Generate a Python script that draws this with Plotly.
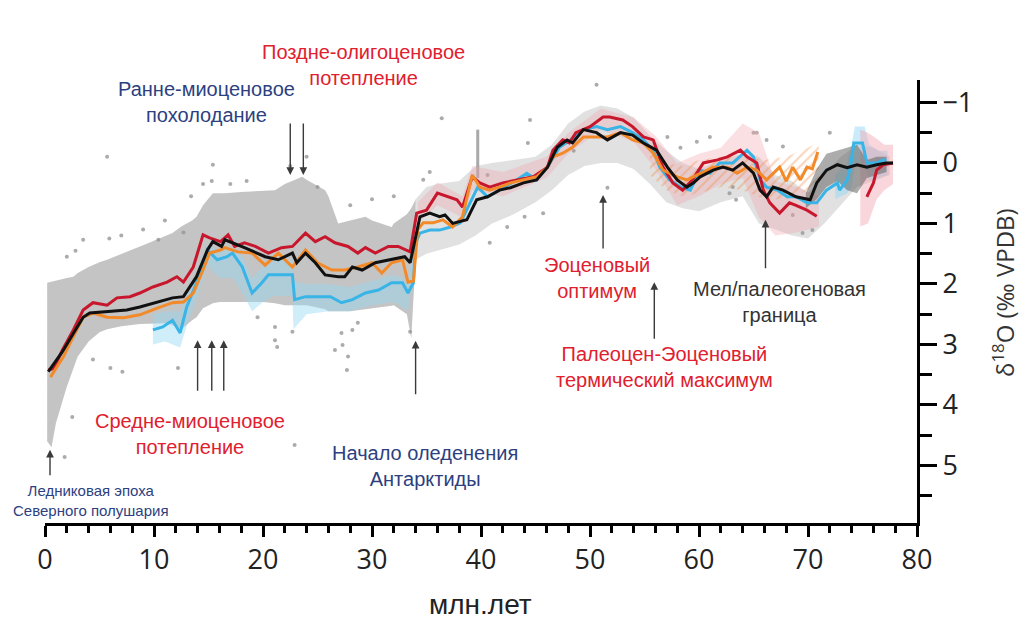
import plotly.graph_objects as go

# ---------------- data (age in Myr, d18O in permil) ----------------
black_age = [0.3, 1.6, 2.6, 3.5, 4.1, 5.7, 7.5, 8.7, 10.3, 11.7, 12.7, 13.9, 14.9, 15.4, 16.2, 16.5, 18.3, 20.2, 21.4, 22.7,
             23.1, 23.9, 24.8, 25.7, 26.9, 27.5, 28.2, 29.1, 30.3, 31.8, 33.0, 33.5, 34.4, 35.3, 36.2, 36.7, 37.4, 38.7, 39.6, 40.6,
             41.7, 42.7, 43.9, 45.1, 46.1, 47.0, 47.9, 48.4, 49.4, 50.6, 51.6, 52.8, 53.9, 54.9, 56.1, 57.1, 58.0, 58.9, 59.5, 60.1,
             61.3, 62.2, 63.1, 64.0, 65.0, 65.6, 66.2, 66.8, 67.7, 68.9, 70.2, 70.8, 71.7, 72.7, 73.6, 74.5, 75.4, 76.3, 77.2, 77.8]
black_d18o = [3.45, 3.12, 2.82, 2.55, 2.48, 2.46, 2.43, 2.38, 2.30, 2.23, 2.21, 1.88, 1.44, 1.30, 1.38, 1.27, 1.40, 1.55, 1.60, 1.49,
              1.65, 1.49, 1.65, 1.85, 1.88, 1.88, 1.72, 1.77, 1.65, 1.60, 1.55, 1.65, 0.89, 0.83, 0.89, 0.86, 1.00, 0.94, 0.61, 0.56,
              0.45, 0.41, 0.33, 0.28, 0.07, -0.26, -0.38, -0.33, -0.55, -0.50, -0.38, -0.50, -0.46, -0.33, -0.21, 0.07, 0.28, 0.40, 0.33, 0.23,
              0.12, 0.07, 0.12, 0.00, 0.17, 0.45, 0.56, 0.40, 0.45, 0.56, 0.61, 0.33, 0.12, 0.03, 0.08, 0.03, 0.07, 0.03, 0.00, 0.00]

red_age = [0.3, 0.8, 1.6, 2.6, 3.5, 4.4, 5.7, 6.6, 7.8, 8.7, 9.9, 11.2, 12.1, 12.7, 13.6, 14.5, 15.1, 16.1, 16.8, 17.4,
           18.3, 19.3, 20.5, 21.7, 22.7, 23.9, 24.8, 25.7, 26.6, 27.8, 28.7, 29.4, 30.3, 31.5, 32.4, 33.5, 34.1, 35.0, 36.0, 36.9,
           37.8, 38.3, 39.2, 39.9, 40.8, 42.0, 43.3, 44.8, 46.1, 46.6, 47.5, 48.1, 48.7, 50.0, 51.2, 51.8, 53.0, 53.9, 54.9, 55.8,
           56.7, 57.6, 58.5, 59.4, 60.4, 61.7, 62.6, 63.8, 64.4, 65.3, 65.9, 66.5, 67.4, 68.3, 68.9, 69.9, 70.8, None,
           75.4, 76.0, 76.3, 76.9, 77.8]
red_d18o = [3.42, 3.40, 3.09, 2.76, 2.43, 2.31, 2.35, 2.23, 2.21, 2.15, 2.05, 1.97, 1.88, 1.97, 1.72, 1.19, 1.24, 1.30, 1.19, 1.38,
            1.32, 1.38, 1.49, 1.40, 1.38, 1.16, 1.30, 1.22, 1.32, 1.38, 1.49, 1.40, 1.49, 1.38, 1.38, 1.47, 0.83, 0.78, 0.50, 0.56,
            0.61, 0.73, 0.23, 0.33, 0.40, 0.33, 0.28, 0.23, 0.07, -0.21, -0.38, -0.33, -0.50, -0.60, -0.76, -0.76, -0.71, -0.60, -0.43, -0.38,
            0.07, 0.33, 0.45, 0.28, 0.00, -0.05, -0.10, -0.21, -0.10, 0.00, 0.45, 0.66, 0.83, 0.66, 0.70, 0.78, 0.88, None,
            0.56, 0.33, 0.12, 0.03, 0.00]

orange_age = [0.5, 1.7, 2.6, 3.5, 4.4, 5.7, 7.2, 8.7, 10.3, 11.7, 12.7, 13.6, 14.5, 15.1, 16.1, 16.5, 17.7, 19.0, 20.2, 21.4,
              22.7, 23.9, 25.0, 26.3, 27.5, 28.7, 30.0, 30.9, 31.8, 32.8, 33.3, 33.8, 34.2, 34.7, 35.6, 36.5, 37.4, 38.3, 39.2, 39.9,
              40.8, 41.7, 42.7, 43.9, 45.1, 46.1, 46.6, 47.5, 48.4, 49.4, 50.6, 51.6, 52.8, 53.9, 54.9, 55.8, 56.7, 58.0, 58.9, 60.1,
              61.3, 62.6, 63.5, 64.4, 65.3, 66.2, 66.8, 67.4, 68.0, 68.6, 69.3, 69.9, 70.4, 70.9]
orange_d18o = [3.54, 3.20, 2.87, 2.55, 2.48, 2.55, 2.56, 2.51, 2.40, 2.31, 2.30, 2.15, 1.77, 1.49, 1.44, 1.40, 1.47, 1.49, 1.69, 1.49,
               1.72, 1.44, 1.65, 1.77, 1.77, 1.72, 1.65, 1.82, 1.65, 1.60, 1.97, 1.95, 1.10, 0.99, 0.99, 0.94, 1.06, 0.89, 0.20, 0.40,
               0.45, 0.40, 0.33, 0.28, 0.23, 0.07, -0.10, -0.16, -0.26, -0.43, -0.43, -0.43, -0.50, -0.38, -0.33, -0.16, 0.12, 0.23, 0.28, 0.17,
               0.07, 0.07, 0.17, 0.07, 0.12, 0.28, 0.17, 0.07, 0.30, 0.07, 0.28, 0.07, 0.10, -0.18]

cyan_age = [9.9, 10.8, 11.7, 12.4, 13.0, 13.9, 14.9, 15.8, 16.7, 17.2, 18.1, 19.0, 19.9, 20.5, 21.4, 22.7, 22.9, 23.9, 25.0, 26.2,
            27.2, 28.2, 29.4, 30.6, 31.8, 32.8, 33.3, 33.8, 34.0, 34.4, 35.3, 36.2, 37.2, 38.1, 39.0, 39.7, 40.6, 41.7, 43.3, 44.2,
            45.1, 46.1, 47.2, 48.2, 49.4, 50.6, 51.6, 52.8, 53.9, 54.9, 55.8, 56.4, 57.3, 58.3, 59.2, 59.8, 60.1, 61.0, 61.9, 63.1,
            64.4, 65.0, 65.6, 66.2, 67.2, 68.1, 68.9, 69.9, 70.8, 71.7, 72.7, 72.9, 73.6, 73.9, 74.2, 75.0, 75.4, 76.3, 76.9, 77.2]
cyan_d18o = [2.76, 2.71, 2.60, 2.81, 2.38, 1.98, 1.44, 1.60, 1.55, 1.49, 1.72, 2.15, 1.98, 1.85, 1.85, 1.85, 2.26, 2.21, 2.21, 2.21,
             2.31, 2.26, 2.15, 2.10, 1.98, 1.98, 2.15, 1.98, 1.32, 1.16, 1.11, 1.11, 1.06, 0.99, 0.66, 0.40, 0.56, 0.45, 0.28, 0.17,
             0.28, 0.07, -0.26, -0.38, -0.55, -0.60, -0.55, -0.60, -0.50, -0.38, -0.21, 0.07, 0.28, 0.40, 0.45, 0.23, 0.12, 0.17, 0.00, 0.00,
             -0.21, -0.10, 0.28, 0.40, 0.45, 0.56, 0.56, 0.66, 0.66, 0.45, 0.33, 0.45, 0.28, 0.07, -0.33, -0.33, 0.00, 0.00, -0.05, -0.05]

# uncertainty envelopes
cyan_band_age = [9.9, 11.0, 12.4, 13.0, 13.9, 14.9, 16.0, 17.2, 18.1, 19.0, 20.0, 21.0, 22.7, 22.8, 24.0, 26.0, 28.0, 30.0, 32.0, 33.3, 34.0]
cyan_band_hi = [2.50, 2.45, 2.45, 2.15, 1.80, 1.35, 1.45, 1.40, 1.55, 1.90, 1.70, 1.60, 1.60, 1.95, 2.00, 2.00, 2.05, 1.95, 1.85, 1.95, 1.20]
cyan_band_lo = [3.00, 2.95, 3.05, 2.70, 2.25, 1.70, 1.90, 1.90, 2.15, 2.45, 2.30, 2.20, 2.20, 2.75, 2.50, 2.45, 2.45, 2.35, 2.30, 2.45, 1.50]
cyan_band2_age = [72.5, 73.6, 74.0, 74.3, 75.2, 75.6, 76.5, 77.3]
cyan_band2_hi = [0.20, 0.00, -0.30, -0.60, -0.60, -0.30, -0.20, -0.20]
cyan_band2_lo = [0.60, 0.50, 0.40, 0.00, 0.00, 0.30, 0.25, 0.20]

red_band_age = [34.2, 36.0, 38.3, 39.2, 42.0, 46.0, 48.0, 51.0, 54.0, 56.0, 58.0, 60.0, 62.0, 64.0, 65.5, 67.0, 69.0, 71.0]
red_band_hi = [0.65, 0.32, 0.55, 0.05, 0.15, -0.10, -0.50, -0.90, -0.75, -0.45, 0.00, -0.15, -0.25, -0.65, -0.50, 0.30, 0.40, 0.55]
red_band_lo = [1.00, 0.70, 0.90, 0.45, 0.55, 0.25, -0.15, -0.55, -0.35, 0.10, 0.70, 0.55, 0.35, 0.25, 0.90, 1.20, 1.15, 1.05]
red_band2_age = [74.8, 75.5, 76.3, 77.0, 77.8]
red_band2_hi = [-0.55, -0.50, -0.40, -0.30, -0.30]
red_band2_lo = [1.05, 1.00, 0.60, 0.45, 0.35]

orange_band_age = [55.5, 57.0, 58.5, 60.0, 62.0, 64.0, 66.0, 68.0, 70.0, 71.0]
orange_band_hi = [-0.35, 0.00, 0.05, -0.05, -0.10, -0.10, -0.05, -0.10, -0.25, -0.35]
orange_band_lo = [0.20, 0.45, 0.55, 0.50, 0.40, 0.45, 0.60, 0.60, 0.45, 0.25]

black_band_age = [69.8, 70.8, 71.7, 72.7, 73.6, 74.5, 75.4, 76.3, 77.2]
black_band_hi = [0.50, 0.10, -0.15, -0.20, -0.25, -0.30, -0.05, -0.10, -0.10]
black_band_lo = [0.75, 0.60, 0.40, 0.30, 0.45, 0.50, 0.25, 0.20, 0.15]

# grey cloud of individual measurements (envelopes)
cloud1_age = [0.2, 0.6, 1.0, 1.5, 2.0, 2.6, 3.0, 4.0, 5.0, 5.7, 7.0, 8.7, 9.0, 11.0, 11.7, 12.5, 13.5, 13.9, 14.5, 15.4, 16.0, 16.5,
              18.0, 20.0, 21.1, 22.0, 23.6, 24.0, 25.7, 26.0, 26.9, 28.0, 29.4, 30.0, 31.8, 32.0, 33.2, 33.6, 34.0]
cloud1_hi = [1.98, 1.96, 1.94, 1.92, 1.90, 1.88, 1.82, 1.72, 1.64, 1.60, 1.50, 1.38, 1.36, 1.22, 1.16, 1.05, 0.95, 0.89, 0.70, 0.50, 0.50, 0.50,
             0.48, 0.46, 0.45, 0.35, 0.23, 0.28, 0.45, 0.55, 1.00, 0.95, 0.89, 0.95, 1.06, 1.00, 0.85, 0.75, 0.60]
cloud1_lo = [4.60, 4.70, 4.30, 4.00, 3.70, 3.40, 3.20, 2.95, 2.80, 2.75, 2.70, 2.66, 2.65, 2.65, 2.68, 2.75, 2.60, 2.55, 2.40, 2.32, 2.30, 2.30,
             2.30, 2.30, 2.32, 2.35, 2.35, 2.35, 2.42, 2.45, 2.45, 2.45, 2.42, 2.40, 2.36, 2.35, 2.50, 2.90, 1.60]
cloud2_age = [34.0, 35.0, 36.0, 38.0, 39.5, 41.0, 43.0, 45.0, 46.5, 48.0, 49.5, 51.0, 52.5, 54.0, 55.5, 57.0, 58.5, 60.0, 62.0, 64.0,
              65.5, 67.0, 68.5, 70.0, 71.5, 73.0, 74.5, 76.0, 77.5]
cloud2_hi = [0.60, 0.40, 0.35, 0.30, 0.05, 0.00, -0.05, -0.10, -0.30, -0.65, -0.85, -0.95, -0.90, -0.75, -0.45, -0.20, 0.00, 0.10, -0.05, -0.15,
             -0.10, 0.20, 0.30, 0.50, 0.20, -0.10, -0.30, -0.25, -0.10]
cloud2_lo = [1.60, 1.50, 1.45, 1.35, 1.20, 1.00, 0.85, 0.65, 0.45, 0.20, 0.05, 0.00, 0.00, 0.10, 0.35, 0.65, 0.75, 0.80, 0.65, 0.55,
             1.00, 1.10, 1.20, 1.25, 1.00, 0.70, 0.40, 0.30, 0.20]

outlier_age = [5.7, 3.5, 2.8, 2.0, 7.0, 5.9, 10.4, 12.7, 15.4, 15.3, 14.5, 6.0, 7.1, 12.2, 4.4, 19.5, 21.1, 21.1, 21.3, 22.7,
               26.6, 27.2, 27.3, 27.8, 27.7, 28.2, 28.7, 33.5, 22.9, 1.8, 2.5, 36.4, 44.5, 44.3, 35.3, 34.7, 42.4, 44.0, 45.7, 40.8,
               40.6, 50.6, 51.6, 48.5, 58.3, 59.8, 61.0, 65.0, 66.2, 62.8, 63.4, 63.1, 57.1, 72.0, 65.3, 67.7, 69.5, 70.4, 68.6, 22.5,
               24.0, 18.5, 13.4, 30.0, 32.0, 28.0, 9.0, 11.0, 17.0, 25.0]
outlier_d18o = [-0.10, 1.27, 1.45, 1.55, 1.20, 1.25, 1.27, 1.15, 0.03, 0.30, 0.35, 3.39, 3.45, 3.39, 3.25, 2.55, 2.71, 2.93, 3.04, 2.79,
                3.09, 2.81, 3.01, 3.20, 3.42, 2.76, 2.64, 2.79, 4.66, 4.86, 4.20, -0.74, -0.71, -0.33, 0.15, 0.28, 1.06, 0.89, 0.83, 1.32,
                0.20, -1.29, 0.41, -0.20, -0.25, -0.35, -0.43, -0.50, -0.38, 0.50, 0.61, 0.40, -0.43, -0.50, -0.50, -0.27, 1.16, 1.11, 0.86, 0.05,
                -0.10, 0.30, 0.55, 0.60, 0.55, 0.70, 1.10, 0.95, 0.35, 0.40]
streak_age = [39.7, 39.7]
streak_d18o = [-0.55, 0.25]

x_ticks = [0, 10, 20, 30, 40, 50, 60, 70, 80]
y_ticks = [-1, 0, 1, 2, 3, 4, 5]

# annotations: text, centre (age, paper-y), colour, size
RED_T = "#e0202e"
BLUE_T = "#2d3f80"
labels = [
    ("Поздне-олигоценовое<br>потепление", 29.2, 1.034, RED_T, 20),
    ("Ранне-миоценовое<br>похолодание", 14.86, 0.950, BLUE_T, 20),
    ("Средне-миоценовое<br>потепление", 13.3, 0.201, RED_T, 20),
    ("Ледниковая эпоха<br>Северного полушария", 4.22, 0.050, BLUE_T, 15),
    ("Начало оледенения<br>Антарктиды", 34.86, 0.129, BLUE_T, 20),
    ("Эоценовый<br>оптимум", 50.64, 0.553, RED_T, 20),
    ("Палеоцен-Эоценовый<br>термический максимум", 56.88, 0.352, RED_T, 20),
    ("Мел/палеогеновая<br>граница", 67.34, 0.499, "#333333", 20),
]
# arrows: head (age, d18O) and tail offset in px (vertical)
arrow_age = [22.5, 23.7, 14.0, 15.3, 16.4, 0.46, 34.0, 51.2, 55.9, 66.1]
arrow_d18o = [0.20, 0.20, 2.93, 2.93, 2.93, 4.74, 2.94, 0.53, 1.97, 0.94]
arrow_tail = [-53, -53, 52, 52, 52, 27, 55, 55, 58, 50]

# ---------------- figure ----------------
fig = go.Figure()

def band(age, hi, lo, **kw):
    fig.add_trace(go.Scatter(x=age + age[::-1], y=hi + lo[::-1], mode="lines", fill="toself",
                             line=dict(width=0), hoverinfo="skip", showlegend=False, **kw))

band(cloud1_age, cloud1_hi, cloud1_lo, fillcolor="rgba(165,165,165,0.66)")
band(cloud2_age, cloud2_hi, cloud2_lo, fillcolor="rgba(180,180,180,0.40)")
fig.add_trace(go.Scatter(x=streak_age, y=streak_d18o, mode="lines", line=dict(color="rgba(160,160,160,0.9)", width=3),
                         showlegend=False, hoverinfo="skip"))
fig.add_trace(go.Scatter(x=outlier_age, y=outlier_d18o, mode="markers",
                         marker=dict(size=4, color="rgba(150,150,150,0.8)"), showlegend=False, hoverinfo="skip"))

band(cyan_band_age, cyan_band_hi, cyan_band_lo, fillcolor="rgba(150,215,245,0.45)")
band(cyan_band2_age, cyan_band2_hi, cyan_band2_lo, fillcolor="rgba(150,215,245,0.5)")
band(red_band_age, red_band_hi, red_band_lo, fillcolor="rgba(242,165,175,0.35)")
band(red_band2_age, red_band2_hi, red_band2_lo, fillcolor="rgba(242,165,175,0.45)")
band(orange_band_age, orange_band_hi, orange_band_lo, fillcolor="rgba(0,0,0,0)",
     fillpattern=dict(shape="/", fgcolor="rgba(240,140,70,0.75)", bgcolor="rgba(0,0,0,0)", size=7, solidity=0.3))
band(black_band_age, black_band_hi, black_band_lo, fillcolor="rgba(90,90,90,0.5)")

fig.add_trace(go.Scatter(x=cyan_age, y=cyan_d18o, mode="lines", line=dict(color="#38b4e6", width=3),
                         showlegend=False))
fig.add_trace(go.Scatter(x=red_age, y=red_d18o, mode="lines", line=dict(color="#c8172c", width=3),
                         showlegend=False, connectgaps=False))
fig.add_trace(go.Scatter(x=orange_age, y=orange_d18o, mode="lines", line=dict(color="#f28a2a", width=3),
                         showlegend=False))
fig.add_trace(go.Scatter(x=black_age, y=black_d18o, mode="lines", line=dict(color="#111111", width=3),
                         showlegend=False))

annotations = []
for text, ax_, py_, col, sz in labels:
    annotations.append(dict(x=ax_, y=py_, xref="x", yref="paper", text=text, showarrow=False,
                            font=dict(family="Liberation Sans, Arial", size=sz, color=col),
                            align="center", xanchor="center", yanchor="middle"))
for a, d, t in zip(arrow_age, arrow_d18o, arrow_tail):
    annotations.append(dict(x=a, y=d, xref="x", yref="y", text="", showarrow=True, ax=0, ay=t,
                            arrowhead=2, arrowsize=1.1, arrowwidth=1.4, arrowcolor="#3a3a3a"))
annotations.append(dict(x=0.499, y=-0.185, xref="paper", yref="paper", text="млн.лет", showarrow=False,
                        font=dict(family="Liberation Sans, Arial", size=28, color="#222"),
                        xanchor="center", yanchor="middle"))
annotations.append(dict(x=1.099, y=0.52, xref="paper", yref="paper", text="δ<sup>18</sup>O (‰ VPDB)",
                        showarrow=False, textangle=-90,
                        font=dict(family="Open Sans, Liberation Sans", size=24, color="#333"),
                        xanchor="center", yanchor="middle"))

fig.update_layout(
    width=1022, height=619,
    margin=dict(l=45, r=105, t=80, b=96, autoexpand=False),
    paper_bgcolor="white", plot_bgcolor="white",
    showlegend=False,
    annotations=annotations,
    xaxis=dict(range=[0, 80], tickmode="array", tickvals=x_ticks, ticks="outside", ticklen=11, tickwidth=3,
               tickcolor="black", showline=True, linewidth=3, linecolor="black", showgrid=False, zeroline=False,
               automargin=False,
               tickfont=dict(family="Open Sans", size=27, color="#222"),
               minor=dict(dtick=2, tick0=0, ticks="outside", ticklen=7, tickwidth=2.5, tickcolor="black", showgrid=False)),
    yaxis=dict(range=[5.95, -1.37], side="right", tickmode="array", tickvals=y_ticks, ticks="outside", ticklen=17,
               tickwidth=3, tickcolor="black", showline=True, linewidth=3, linecolor="black", showgrid=False,
               zeroline=False, automargin=False, tickfont=dict(family="Open Sans", size=27, color="#222"),
               minor=dict(dtick=0.5, tick0=0, ticks="outside", ticklen=12, tickwidth=2.5, tickcolor="black", showgrid=False)),
)

fig.write_html("out.html", config={"displayModeBar": False},
               post_script="document.body.style.margin='0';document.body.style.overflow='hidden';")
